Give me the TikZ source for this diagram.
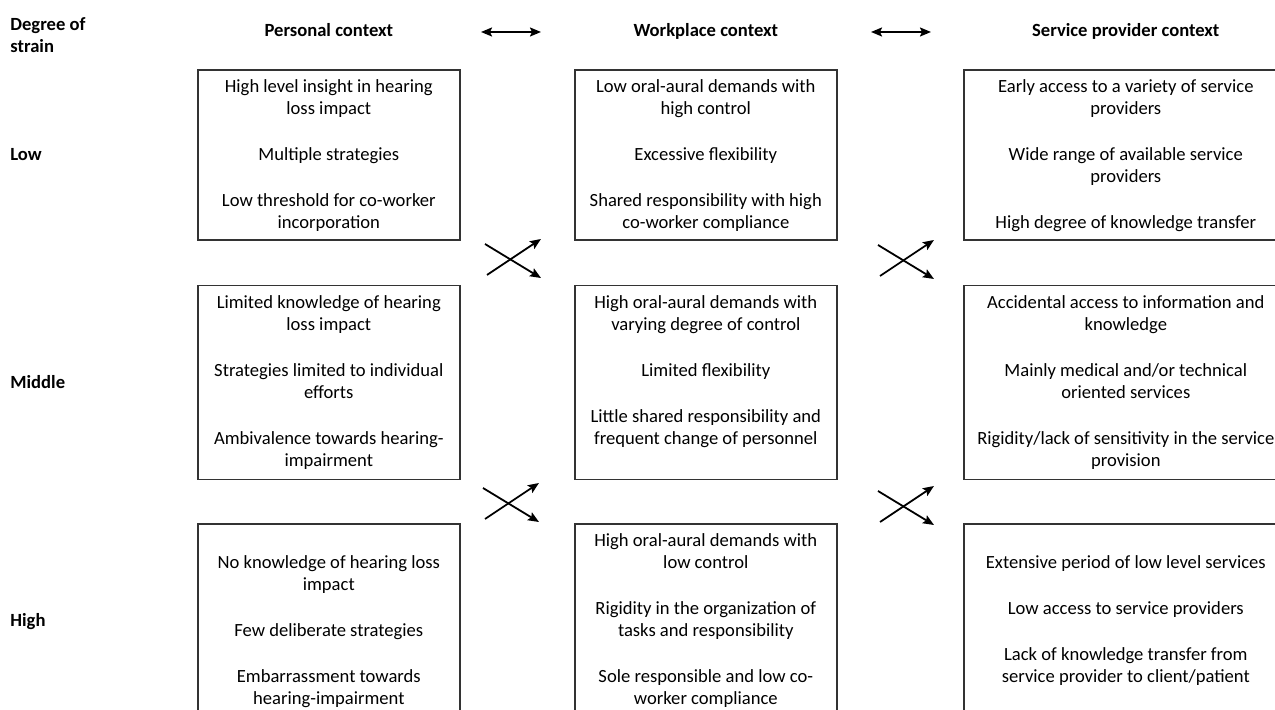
\documentclass[tikz,border=0pt]{standalone}
\usepackage{fontspec}
\setmainfont{Carlito}
\usepackage{tikz}
\usetikzlibrary{positioning,arrows.meta}
\tikzset{>={Stealth[length=5.5pt, width=4.5pt, inset=1pt]}}
\newcommand{\bodysize}{\fontsize{9.3}{11}\selectfont}
\newcommand{\itemgap}{\\[12pt]}
\newcommand{\cellbox}[3]{\begin{minipage}[c][#2][t]{#1}\centering #3\end{minipage}}

\begin{document}
\begin{tikzpicture}[x=0.5pt, y=-0.5pt,
cell/.style={rectangle, draw=black!80, line width=0.8pt, inner xsep=0pt, inner ysep=5pt, font=\bodysize},
head/.style={font=\bodysize\bfseries, anchor=base, inner sep=0pt},
rowlab/.style={font=\bodysize\bfseries, anchor=west, inner sep=0pt},
link/.style={->, line width=0.9pt}
]
\useasboundingbox (0,0) rectangle (1275,710);

\node (pers1) [cell, anchor=north west] at (197,69) {\cellbox{131pt}{75pt}{%
High level insight in hearing\\ loss impact\itemgap
Multiple strategies\itemgap
Low threshold for co-worker\\ incorporation}};
\node (pers2) [cell, below=22pt of pers1] {\cellbox{131pt}{87pt}{%
Limited knowledge of hearing\\ loss impact\itemgap
Strategies limited to individual\\ efforts\itemgap
Ambivalence towards hearing-\\ impairment}};
\node (pers3) [cell, below=21.5pt of pers2] {\cellbox{131pt}{88pt}{%
\vspace*{11pt}
No knowledge of hearing loss\\ impact\itemgap
Few deliberate strategies\itemgap
Embarrassment towards\\ hearing-impairment}};

\node (work1) [cell, right=56.7pt of pers1] {\cellbox{131pt}{75pt}{%
Low oral-aural demands with\\ high control\itemgap
Excessive flexibility\itemgap
Shared responsibility with high\\ co-worker compliance}};
\node (work2) [cell, below=22pt of work1] {\cellbox{131pt}{87pt}{%
High oral-aural demands with\\ varying degree of control\itemgap
Limited flexibility\itemgap
Little shared responsibility and\\ frequent change of personnel}};
\node (work3) [cell, below=21.5pt of work2] {\cellbox{131pt}{88pt}{%
High oral-aural demands with\\ low control\itemgap
Rigidity in the organization of\\ tasks and responsibility\itemgap
Sole responsible and low co-\\ worker compliance}};

\node (serv1) [cell, right=62.7pt of work1] {\cellbox{162pt}{75pt}{%
Early access to a variety of service\\ providers\itemgap
Wide range of available service\\ providers\itemgap
High degree of knowledge transfer}};
\node (serv2) [cell, below=22pt of serv1] {\cellbox{162pt}{87pt}{%
Accidental access to information and\\ knowledge\itemgap
Mainly medical and/or technical\\ oriented services\itemgap
Rigidity/lack of sensitivity in the service\\ provision}};
\node (serv3) [cell, below=21.5pt of serv2] {\cellbox{162pt}{88pt}{%
\vspace*{11pt}
Extensive period of low level services\itemgap
Low access to service providers\itemgap
Lack of knowledge transfer from\\ service provider to client/patient}};

\coordinate (hline) at (0,37);
\node (hpers) [head] at (pers1.north |- hline) {Personal context};
\node (hwork) [head] at (work1.north |- hline) {Workplace context};
\node (hserv) [head] at (serv1.north |- hline) {Service provider context};

\coordinate (lcol) at (10,0);
\node (degree) [rowlab, align=left] at (10,35) {Degree of\\ strain};
\node (low) [rowlab] at (lcol |- pers1) {Low};
\node (middle) [rowlab] at (lcol |- pers2) {Middle};
\node (high) [rowlab] at (lcol |- pers3) {High};

\coordinate (a1) at (481,32);
\coordinate (a2) at (541,32);
\coordinate (b1) at (871,32);
\coordinate (b2) at (931,32);
\draw [link, <->] (a1) -- (a2);
\draw [link, <->] (b1) -- (b2);

\foreach \cx/\cy [count=\i] in {510/259, 508/503, 903/260, 903/506} {
  \coordinate (ua\i) at (\cx-25,\cy-15);
  \coordinate (ub\i) at (\cx+31,\cy+19);
  \coordinate (da\i) at (\cx-23,\cy+16);
  \coordinate (db\i) at (\cx+31,\cy-20);
  \draw [link] (ua\i) -- (ub\i);
  \draw [link] (da\i) -- (db\i);
}
\end{tikzpicture}
\end{document}
